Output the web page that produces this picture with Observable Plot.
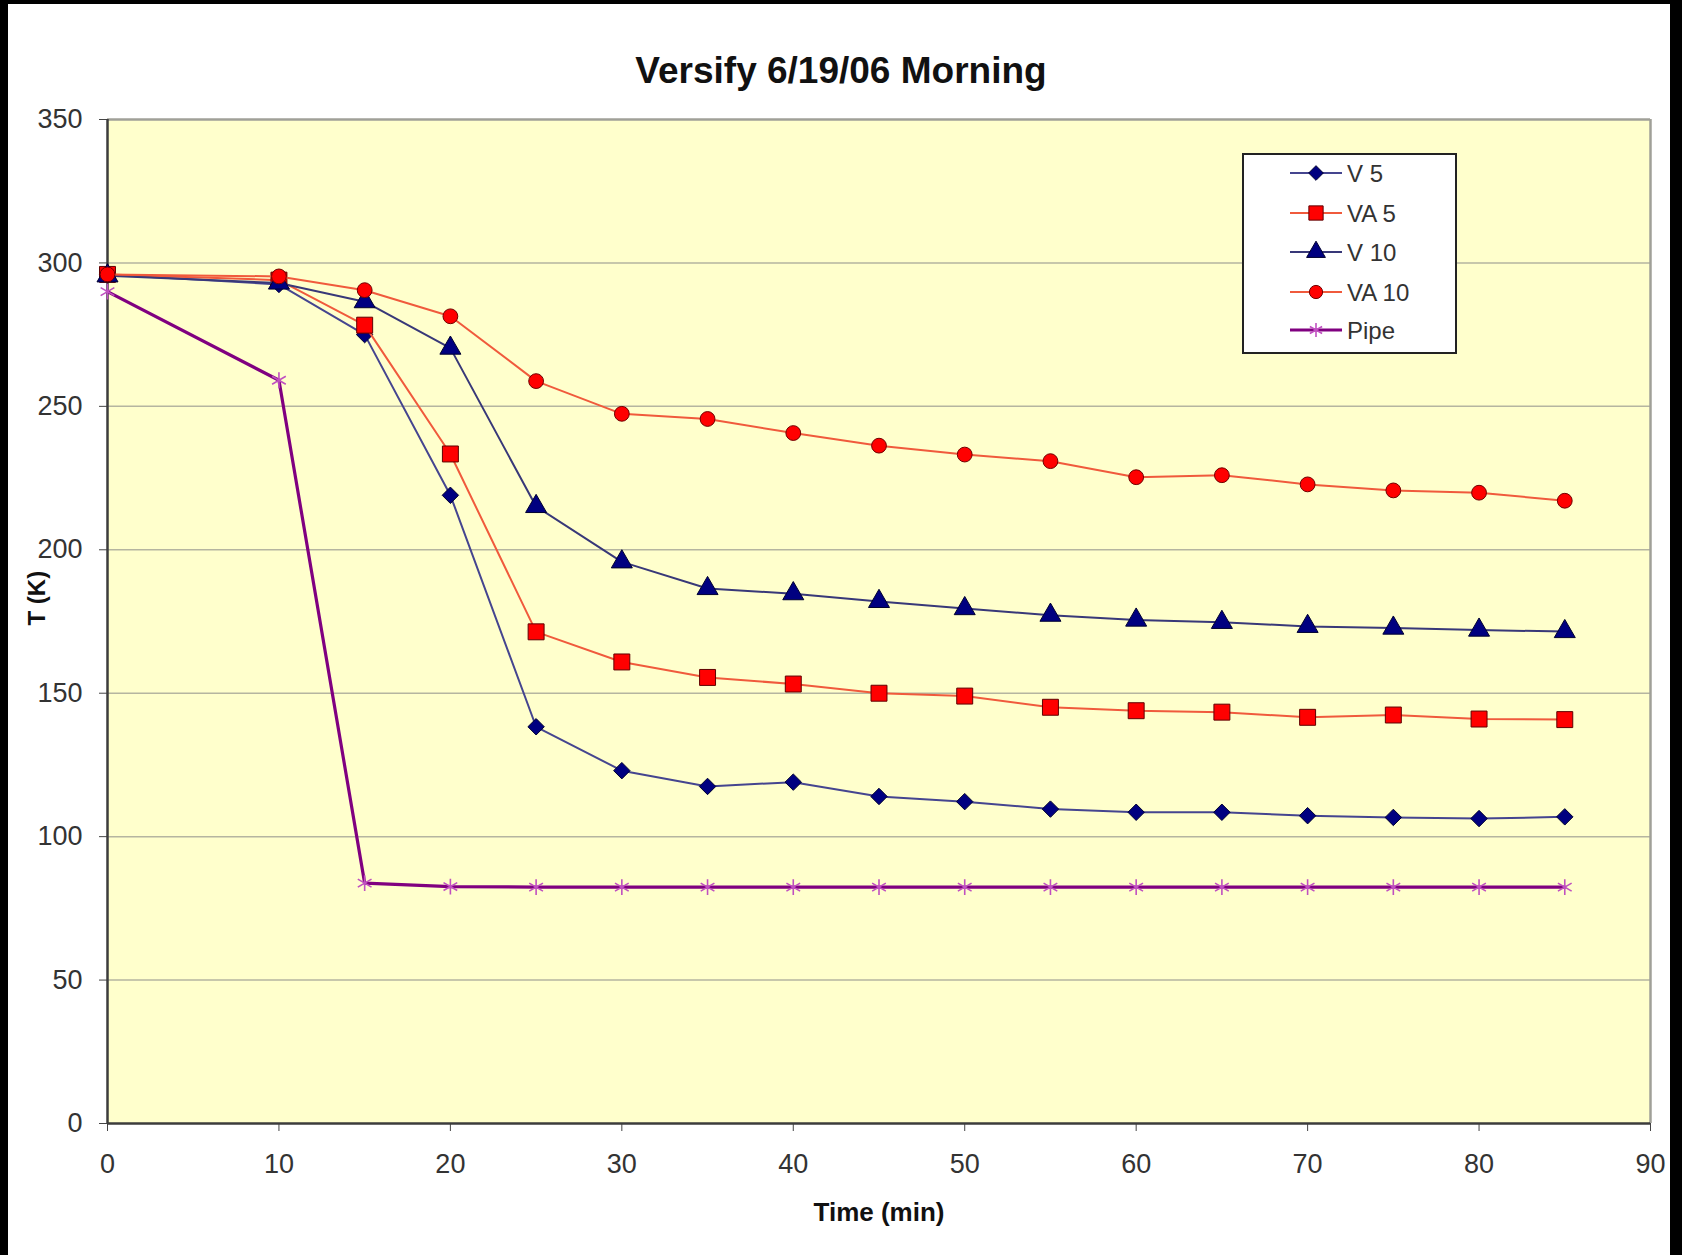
<!DOCTYPE html>
<html>
<head>
<meta charset="utf-8">
<script src="https://cdn.jsdelivr.net/npm/d3@7"></script>
<script src="https://cdn.jsdelivr.net/npm/@observablehq/plot@0.6"></script>
<style>
  html, body { margin: 0; padding: 0; background: #fff; }
  #wrap { position: relative; width: 1682px; height: 1255px; overflow: hidden; background: #fff;
          font-family: "Liberation Sans", Arial, sans-serif; }
  #title { position: absolute; left: 0; top: 52px; width: 1682px; text-align: center;
           font-size: 37px; line-height: 37px; font-weight: bold; color: #111; }
  #chart { position: absolute; left: 0; top: 100px; }
  #legend { position: absolute; left: 1242px; top: 153px; }
  .bar { position: absolute; background: #000; }
</style>
</head>
<body>
<div id="wrap">
  <div id="title">Versify 6/19/06 Morning</div>
  <div id="chart"></div>
  <div id="legend"></div>
  <div class="bar" style="left:0;top:0;width:1682px;height:4px"></div>
  <div class="bar" style="left:0;top:0;width:8px;height:1255px"></div>
  <div class="bar" style="left:1670px;top:0;width:12px;height:1255px"></div>
</div>
<script>
// ---- data ----
const times = [0, 10, 15, 20, 25, 30, 35, 40, 45, 50, 55, 60, 65, 70, 75, 80, 85];
const v5   = [296, 292.5, 275, 219, 138.3, 123, 117.5, 119, 114, 112.2, 109.6, 108.5, 108.5, 107.3, 106.7, 106.3, 106.9];
const va5  = [296, 294, 278.3, 233.4, 171.4, 160.9, 155.5, 153.2, 150, 149, 145.1, 143.9, 143.4, 141.6, 142.4, 141, 140.8];
const v10  = [295.5, 293, 286.5, 270.3, 215.1, 195.8, 186.5, 184.7, 182, 179.5, 177.2, 175.5, 174.7, 173.3, 172.7, 172, 171.5];
const va10 = [296, 295.3, 290.5, 281.4, 258.8, 247.4, 245.6, 240.7, 236.3, 233.2, 230.9, 225.3, 226, 222.8, 220.7, 219.9, 217.1];
const pipe = [290, 259.1, 83.8, 82.6, 82.4, 82.4, 82.4, 82.4, 82.4, 82.4, 82.4, 82.4, 82.4, 82.4, 82.4, 82.4, 82.4];

const seriesNames = ["V 5", "VA 5", "V 10", "VA 10", "Pipe"];
const xTicks = [0, 10, 20, 30, 40, 50, 60, 70, 80, 90];
const yTicks = [0, 50, 100, 150, 200, 250, 300, 350];

// ---- styles ----
const styles = {
  "V 5":   {values: v5,   line: "#45458f", lw: 2, symbol: "diamond2", r: 7.4, fill: "#000080", stroke: "#000030"},
  "VA 5":  {values: va5,  line: "#f05a3c", lw: 2, symbol: "square",   r: 9, fill: "#ff0000", stroke: "#600000"},
  "V 10":  {values: v10,  line: "#383878", lw: 2, symbol: "triangle", r: 7.8, fill: "#000080", stroke: "#000030"},
  "VA 10": {values: va10, line: "#f05a3c", lw: 2, symbol: "circle",   r: 7.4, fill: "#ff0000", stroke: "#700000"},
  "Pipe":  {values: pipe, line: "#800080", lw: 3.2, symbol: "asterisk", r: 7.5, fill: "none", stroke: "#c050c0"}
};

const tables = seriesNames.map(name => times.map((t, i) => ({series: name, t, v: styles[name].values[i]})));

const marks = [
  Plot.frame({fill: "#ffffcc", stroke: null}),
  Plot.gridY(yTicks.slice(1, -1), {stroke: "#b5b5a0", strokeOpacity: 1, strokeWidth: 1.5}),
  Plot.ruleY([350], {stroke: "#a0a098", strokeWidth: 2.5}),
  Plot.ruleX([90], {stroke: "#a0a098", strokeWidth: 2.5}),
  Plot.axisX({ticks: xTicks, tickSize: 8, tickPadding: 22, label: null, fontSize: 27, stroke: "#444"}),
  Plot.axisY({ticks: yTicks, tickSize: 8, tickPadding: 17, label: null, fontSize: 27, stroke: "#444"}),
  Plot.ruleX([0], {stroke: "#3c3c3c", strokeWidth: 2.5}),
  Plot.ruleY([0], {stroke: "#3c3c3c", strokeWidth: 2.5}),
  Plot.text(["Time (min)"], {frameAnchor: "bottom", dy: 97, fontWeight: "bold", fontSize: 26, fill: "#111"}),
  Plot.text(["T (K)"], {frameAnchor: "left", dx: -70, dy: 4, rotate: -90, fontWeight: "bold", fontSize: 24, fill: "#111"})
];

seriesNames.forEach((name, k) => {
  const s = styles[name];
  marks.push(Plot.line(tables[k], {x: "t", y: "v", stroke: s.line, strokeWidth: s.lw}));
  marks.push(Plot.dot(tables[k], {x: "t", y: "v", symbol: s.symbol, r: s.r, fill: s.fill,
    stroke: s.stroke, strokeWidth: s.fill === "none" ? 1.6 : 1}));
});

const chart = Plot.plot({
  width: 1682,
  height: 1155,
  marginTop: 19,
  marginBottom: 132,
  marginLeft: 107,
  marginRight: 32,
  style: {background: "transparent", fontFamily: "'Liberation Sans', Arial, sans-serif", fontSize: "27px", color: "#333"},
  x: {domain: [0, 90]},
  y: {domain: [0, 350]},
  marks
});
document.getElementById("chart").appendChild(chart);

// ---- legend (inside the plot area, top right) ----
const lw = 215, lh = 201;
const leg = d3.select("#legend").append("svg")
  .attr("width", lw).attr("height", lh)
  .style("font-family", "'Liberation Sans', Arial, sans-serif");
leg.append("rect").attr("x", 1).attr("y", 1).attr("width", lw - 2).attr("height", lh - 2)
  .attr("fill", "#fff").attr("stroke", "#222").attr("stroke-width", 2);
const symMap = {diamond2: d3.symbolDiamond2, square: d3.symbolSquare, triangle: d3.symbolTriangle,
                circle: d3.symbolCircle, asterisk: d3.symbolAsterisk};
const rowY = [20, 60, 99, 139, 177];
seriesNames.forEach((name, k) => {
  const s = styles[name];
  const g = leg.append("g").attr("transform", `translate(0,${rowY[k]})`);
  g.append("line").attr("x1", 48).attr("x2", 100).attr("y1", 0).attr("y2", 0)
    .attr("stroke", s.line).attr("stroke-width", s.lw);
  g.append("path").attr("transform", "translate(74,0)")
    .attr("d", d3.symbol(symMap[s.symbol], Math.PI * s.r * s.r * 0.8)())
    .attr("fill", s.fill).attr("stroke", s.stroke).attr("stroke-width", s.fill === "none" ? 1.6 : 1);
  g.append("text").attr("x", 105).attr("y", 8.5).attr("font-size", 24).attr("fill", "#333").text(name);
});
</script>
</body>
</html>
